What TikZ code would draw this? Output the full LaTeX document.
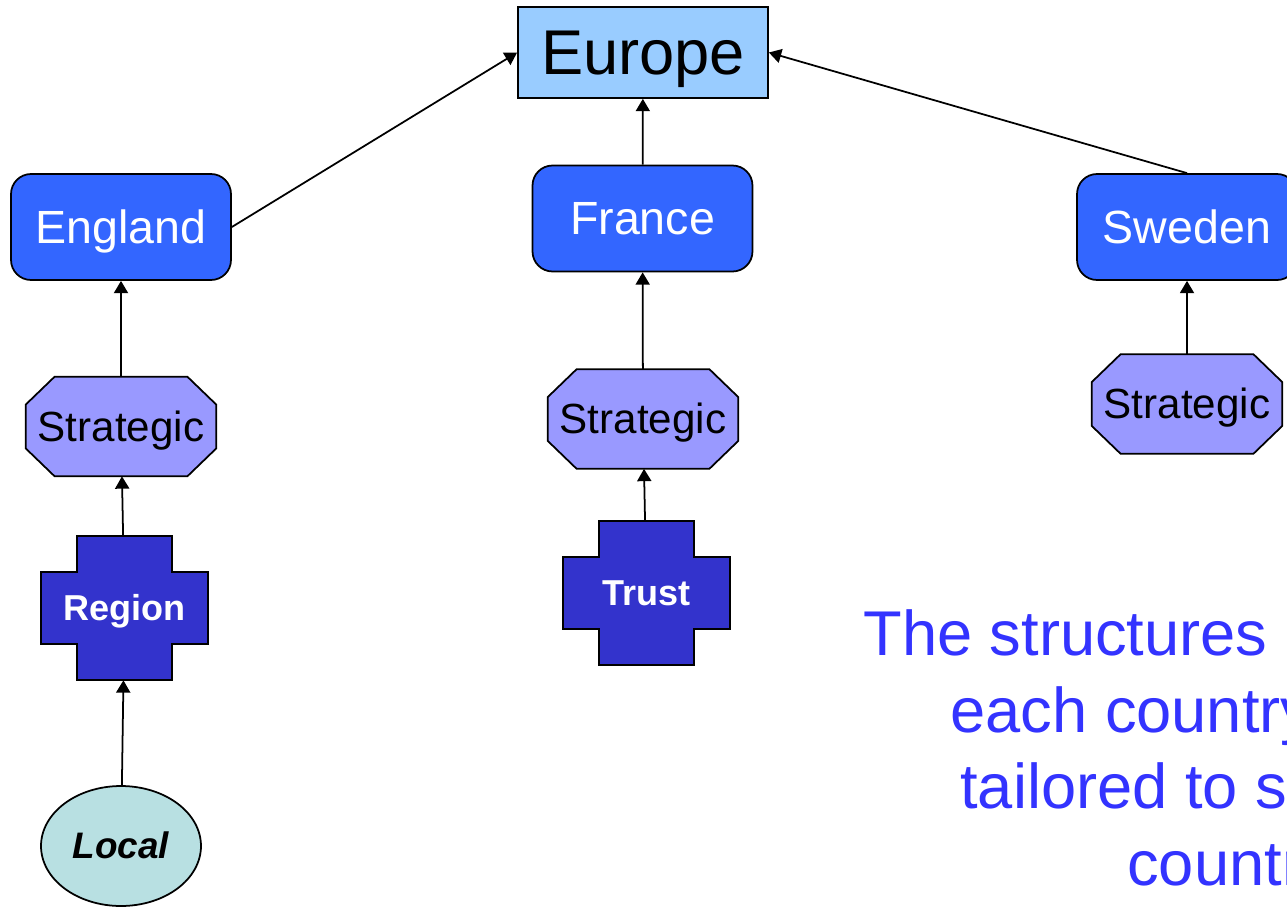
\documentclass[tikz,border=0pt]{standalone}
\usepackage{fontspec}
\setmainfont{Liberation Sans}
\usetikzlibrary{shapes.geometric,arrows.meta,backgrounds}
\definecolor{eublue}{HTML}{99CCFF}
\definecolor{coblue}{HTML}{3366FF}
\definecolor{stblue}{HTML}{9999FF}
\definecolor{crblue}{HTML}{3333CC}
\definecolor{lofill}{HTML}{B8E0E2}
\definecolor{txblue}{HTML}{3333FF}
\tikzset{
    EU/.style ={rectangle, draw, line width=1pt, fill=eublue, minimum width=5cm, minimum height=1.82cm, text height=32.6pt, text depth=7.6pt, font=\fontsize{36}{40}\selectfont},
    CO/.style ={rectangle, rounded corners=0.4cm, draw, line width=1pt, fill=coblue, text=white, minimum width=4.4cm, minimum height=2.12cm, text height=24pt, text depth=5.6pt, font=\fontsize{26.5}{30}\selectfont},
    ST/.style ={rectangle, minimum width=3.8cm, minimum height=1.98cm, inner sep=0pt, text height=21.7pt, text depth=5.1pt, font=\fontsize{24}{28}\selectfont},
    CR/.style ={rectangle, minimum width=3.34cm, minimum height=2.88cm, text=white, text height=18.6pt, text depth=4.3pt, font=\bfseries\fontsize{20.5}{24}\selectfont},
    LO/.style ={ellipse, draw, line width=1pt, fill=lofill, minimum width=3.2cm, minimum height=2.4cm, inner sep=0pt, text height=19pt, text depth=4.5pt, font=\bfseries\itshape\fontsize{21}{24}\selectfont},
    TX/.style ={anchor=base west, inner sep=0pt, text=txblue, font=\fontsize{36}{40}\selectfont},
    AR/.style ={-{Triangle[length=7pt,width=8pt]}, line width=1pt}}
% cross outline behind a named node
\newcommand{\plusshape}[1]{%
    \begin{pgfonlayer}{background}
        \draw[line width=1pt, fill=crblue] ([xshift=0.72cm]#1.north west) -- ([xshift=-0.72cm]#1.north east)
            -- ([xshift=-0.72cm,yshift=-0.72cm]#1.north east) -- ([yshift=-0.72cm]#1.north east)
            -- ([yshift=0.72cm]#1.south east) -- ([xshift=-0.72cm,yshift=0.72cm]#1.south east)
            -- ([xshift=-0.72cm]#1.south east) -- ([xshift=0.72cm]#1.south west)
            -- ([xshift=0.72cm,yshift=0.72cm]#1.south west) -- ([yshift=0.72cm]#1.south west)
            -- ([yshift=-0.72cm]#1.north west) -- ([xshift=0.72cm,yshift=-0.72cm]#1.north west) -- cycle;
    \end{pgfonlayer}}
% octagon outline behind a named node
\newcommand{\octshape}[1]{%
    \begin{pgfonlayer}{background}
        \draw[line width=1pt, fill=stblue] ([xshift=0.58cm]#1.north west) -- ([xshift=-0.58cm]#1.north east)
            -- ([yshift=-0.56cm]#1.north east) -- ([yshift=0.56cm]#1.south east)
            -- ([xshift=-0.58cm]#1.south east) -- ([xshift=0.58cm]#1.south west)
            -- ([yshift=0.56cm]#1.south west) -- ([yshift=-0.56cm]#1.north west) -- cycle;
    \end{pgfonlayer}}
\begin{document}
\begin{tikzpicture}[x=0.02cm,y=-0.02cm]
        \useasboundingbox (0,0) rectangle (1287,906);
        \clip (0,0) rectangle (1287,906);
        \node[EU] (eu) at(643,52.5){Europe};
        \node[CO] (en) at(121,227){England};
        \node[CO] (fr) at(642.5,218.5){France};
        \node[CO] (se) at(1187,227){Sweden};
        \node[ST] (sten) at(121,426.5){Strategic};
        \node[ST] (stfr) at(643,419){Strategic};
        \node[ST] (stse) at(1187,404){Strategic};
        \octshape{sten}
        \octshape{stfr}
        \octshape{stse}
        \node[CR] (reg) at(124.5,608){Region};
        \node[CR] (tru) at(646.5,593){Trust};
        \plusshape{reg}
        \plusshape{tru}
        \node[LO] (loc) at(121,846){Local};
        \node[TX] (l1) at(863,655){The structures};
        \node[TX] (l2) at(950,732){each country};
        \node[TX] (l3) at(960,808){tailored to s};
        \node[TX] (l4) at(1127,885){country};
        \draw[AR] (en.east) --(eu.west);
        \draw[AR] (fr) --(eu);
        \draw[AR] (se.north) --(eu.east);
        \draw[AR] (sten) --(en);
        \draw[AR] (stfr) --(fr);
        \draw[AR] (stse) --(se);
        \draw[AR] (reg) --(sten);
        \draw[AR] (tru) --(stfr);
        \draw[AR] (loc) --(reg);
    \end{tikzpicture}
\end{document}
